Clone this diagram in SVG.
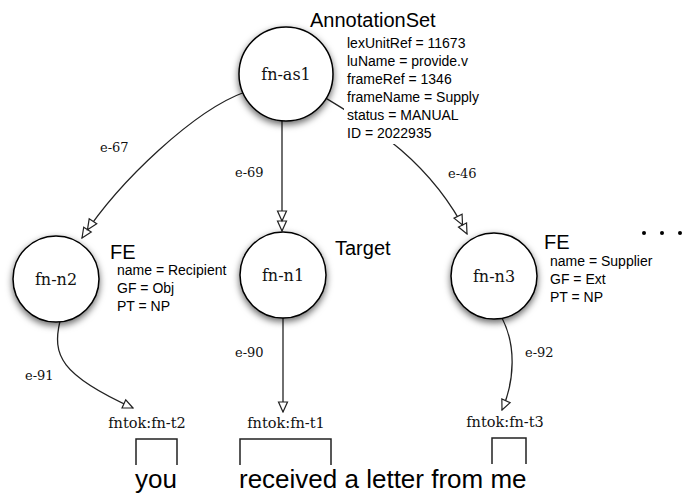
<svg xmlns="http://www.w3.org/2000/svg" width="685" height="493" viewBox="0 0 685 493">
<style>
.node{fill:#fff;stroke:#000;stroke-width:1.5}
.nl{font-family:"DejaVu Serif","Liberation Serif",serif;font-size:16px;fill:#111;text-anchor:middle}
.el{font-family:"DejaVu Serif","Liberation Serif",serif;font-size:13px;fill:#111}
.tok{font-family:"DejaVu Serif","Liberation Serif",serif;font-size:14.5px;fill:#111;text-anchor:middle}
.ttl{font-family:"Liberation Sans",Arial,sans-serif;font-size:20px;fill:#000}
.att{font-family:"Liberation Sans",Arial,sans-serif;font-size:14px;fill:#000}
.word{font-family:"Liberation Sans",Arial,sans-serif;font-size:26px;fill:#000}
.edge{fill:none;stroke:#222;stroke-width:1.3}
.dbl{marker-end:url(#dblOpen)}
.sgl{marker-end:url(#open)}
.br{fill:none;stroke:#222;stroke-width:1.5}
</style>
<defs>
<filter id="sh" x="-30%" y="-30%" width="160%" height="170%">
<feDropShadow dx="0" dy="3" stdDeviation="3.5" flood-color="#000" flood-opacity="0.6"/>
</filter>
<marker id="dblOpen" viewBox="-22 -6 23 12" refX="0" refY="0" markerWidth="23" markerHeight="12" markerUnits="userSpaceOnUse" orient="auto">
<path d="M0,0 L-10,-4.5 L-10,4.5 Z M-10,0 L-20,-4.5 L-20,4.5 Z" fill="#fff" stroke="#222" stroke-width="1.2" stroke-linejoin="miter"/>
</marker>
<marker id="open" viewBox="-12 -6 13 12" refX="0" refY="0" markerWidth="13" markerHeight="12" markerUnits="userSpaceOnUse" orient="auto">
<path d="M0,0 L-10,-4.5 L-10,4.5 Z" fill="#fff" stroke="#222" stroke-width="1.2"/>
</marker>
</defs>
<rect width="685" height="493" fill="#fff"/>

<g id="connectors">
<path id="e-67" class="edge dbl" d="M245,92 C195,110 120,180 82,238"/>
<path id="e-69" class="edge dbl" d="M282,120 L282,231"/>
<path id="e-46" class="edge dbl" d="M324,97 C370,125 430,160 467,234"/>
<path id="e-91" class="edge sgl" d="M60,321 C52,355 60,375 133,408"/>
<path id="e-90" class="edge sgl" d="M283,318 L283,412"/>
<path id="e-92" class="edge sgl" d="M502,318 C516,345 515,380 502,410"/>
<text class="el" x="100" y="152">e-67</text>
<text class="el" x="235" y="177">e-69</text>
<text class="el" x="448" y="178">e-46</text>
<text class="el" x="25" y="380">e-91</text>
<text class="el" x="235" y="357">e-90</text>
<text class="el" x="525" y="357">e-92</text>
</g>

<g id="fn-as1">
<circle class="node" cx="286" cy="74" r="47" filter="url(#sh)"/>
<text class="nl" x="286" y="80">fn-as1</text>
<rect x="344" y="34" width="140" height="110" fill="#fff"/>
<text class="ttl" x="310" y="27" font-size="21">AnnotationSet</text>
<text class="att" x="347" y="48">lexUnitRef = 11673</text>
<text class="att" x="347" y="66">luName = provide.v</text>
<text class="att" x="347" y="84">frameRef = 1346</text>
<text class="att" x="347" y="102">frameName = Supply</text>
<text class="att" x="347" y="120">status = MANUAL</text>
<text class="att" x="347" y="138">ID = 2022935</text>
</g>

<g id="fn-n2">
<circle class="node" cx="56" cy="279" r="43" filter="url(#sh)"/>
<text class="nl" x="56" y="285">fn-n2</text>
<text class="ttl" x="110" y="259" font-size="20">FE</text>
<text class="att" x="117" y="275">name = Recipient</text>
<text class="att" x="117" y="293">GF = Obj</text>
<text class="att" x="117" y="311">PT = NP</text>
</g>

<g id="fn-n1">
<circle class="node" cx="283" cy="275" r="43" filter="url(#sh)"/>
<text class="nl" x="283" y="281">fn-n1</text>
<text class="ttl" x="335" y="255" font-size="19.5">Target</text>
</g>

<g id="fn-n3">
<circle class="node" cx="494" cy="276" r="43" filter="url(#sh)"/>
<text class="nl" x="494" y="282">fn-n3</text>
<text class="ttl" x="544" y="249" font-size="19">FE</text>
<text class="att" x="550" y="266">name = Supplier</text>
<text class="att" x="550" y="284">GF = Ext</text>
<text class="att" x="550" y="302">PT = NP</text>
</g>

<g id="ellipsis" fill="#000">
<circle cx="644" cy="233" r="2"/>
<circle cx="662" cy="233" r="2"/>
<circle cx="680" cy="233" r="2"/>
</g>

<g id="fntok-fn-t2">
<text class="tok" x="147" y="428">fntok:fn-t2</text>
<path class="br" d="M136,465 V439 H177 V465"/>
</g>
<g id="fntok-fn-t1">
<text class="tok" x="286" y="428">fntok:fn-t1</text>
<path class="br" d="M240,465 V439 H331 V465"/>
</g>
<g id="fntok-fn-t3">
<text class="tok" x="505" y="427">fntok:fn-t3</text>
<path class="br" d="M492,464 V438 H526 V464"/>
</g>

<g id="sentence">
<text class="word" x="135" y="488">you</text>
<text class="word" x="239" y="488">received a letter from me</text>
</g>
</svg>
